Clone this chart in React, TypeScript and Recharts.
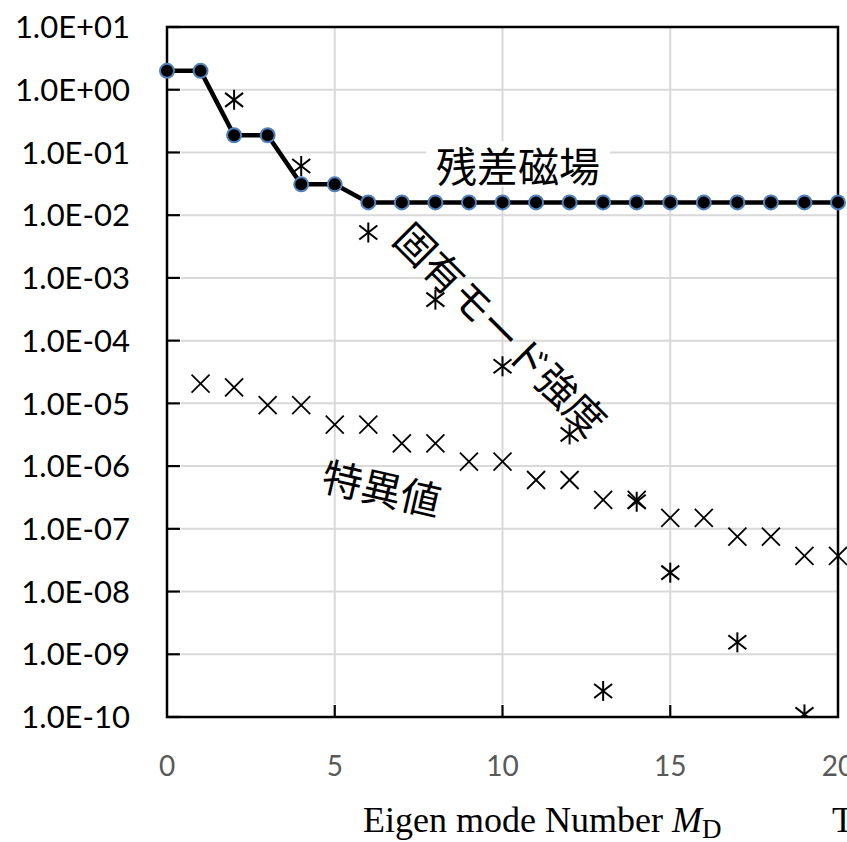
import React from "react";
import {
  ComposedChart,
  Line,
  Scatter,
  XAxis,
  YAxis,
  CartesianGrid,
  ReferenceArea,
} from "recharts";

// eigen mode numbers
const modes = [0, 1, 2, 3, 4, 5, 6, 7, 8, 9, 10, 11, 12, 13, 14, 15, 16, 17, 18, 19, 20];

// 残差磁場 (residual field)
const residualField = [
  2.0, 2.0, 0.188, 0.188, 0.031, 0.031, 0.016, 0.016, 0.016, 0.016, 0.016,
  0.016, 0.016, 0.016, 0.016, 0.016, 0.016, 0.016, 0.016, 0.016, 0.016,
];

// 固有モード強度 (eigen mode intensity)
const modeX = [2, 4, 6, 8, 10, 12, 13, 14, 15, 17, 19];
const modeIntensity = [0.69, 0.061, 0.0053, 4.5e-4, 3.9e-5, 3.2e-6, 2.6e-10, 2.7e-7, 2.0e-8, 1.55e-9, 1.1e-10];

// 特異値 (singular values)
const singularX = [1, 2, 3, 4, 5, 6, 7, 8, 9, 10, 11, 12, 13, 14, 15, 16, 17, 18, 19, 20];
const singularValue = [
  2.07e-5, 1.8e-5, 9.4e-6, 9.4e-6, 4.6e-6, 4.6e-6, 2.3e-6, 2.3e-6, 1.18e-6, 1.18e-6,
  6.0e-7, 6.0e-7, 2.9e-7, 2.9e-7, 1.5e-7, 1.5e-7, 7.5e-8, 7.5e-8, 3.7e-8, 3.7e-8,
];

const xTicks = [0, 5, 10, 15, 20];
const yTicks = [10, 1, 0.1, 0.01, 1e-3, 1e-4, 1e-5, 1e-6, 1e-7, 1e-8, 1e-9, 1e-10];
const yTickLabels = [
  "1.0E+01", "1.0E+00", "1.0E-01", "1.0E-02", "1.0E-03", "1.0E-04",
  "1.0E-05", "1.0E-06", "1.0E-07", "1.0E-08", "1.0E-09", "1.0E-10",
];

const residualData = modes.map((x, i) => ({ x, residual: residualField[i] }));
const modeData = modeX.map((x, i) => ({ x, y: modeIntensity[i] }));
const singularData = singularX.map((x, i) => ({ x, y: singularValue[i] }));

const labelFont = "Lato, 'Open Sans', sans-serif";
const cjkFont = "'Noto Sans CJK JP', sans-serif";
const gridColor = "#d9d9d9";

const Asterisk = (props: any) => {
  const { cx, cy } = props;
  if (cx == null || cy == null) return null;
  return (
    <g stroke="#000" strokeWidth={2}>
      <line x1={cx} y1={cy - 10} x2={cx} y2={cy + 10} />
      <line x1={cx - 9} y1={cy - 7} x2={cx + 9} y2={cy + 7} />
      <line x1={cx - 9} y1={cy + 7} x2={cx + 9} y2={cy - 7} />
    </g>
  );
};

const Cross = (props: any) => {
  const { cx, cy } = props;
  if (cx == null || cy == null) return null;
  return (
    <g stroke="#000" strokeWidth={1.8}>
      <line x1={cx - 9} y1={cy - 9} x2={cx + 9} y2={cy + 9} />
      <line x1={cx - 9} y1={cy + 9} x2={cx + 9} y2={cy - 9} />
    </g>
  );
};

// grid lines leave room for the inward tick marks
const HGrid = (props: any) => {
  const { x1, y1, x2, y2 } = props;
  return <line x1={x1 + 14} y1={y1} x2={x2} y2={y2} stroke={gridColor} strokeWidth={2} />;
};

const VGrid = (props: any) => {
  const { x1, y1, x2, y2 } = props;
  const bottom = Math.max(y1, y2);
  const top = Math.min(y1, y2);
  return <line x1={x1} y1={top} x2={x2} y2={bottom - 13} stroke={gridColor} strokeWidth={2} />;
};

const YTick = (props: any) => {
  const { x, y, payload } = props;
  const idx = yTicks.indexOf(payload.value);
  return (
    <g>
      <line x1={x} y1={y} x2={x + 13} y2={y} stroke="#000" strokeWidth={2.2} />
      <text
        x={x - 37}
        y={y}
        dy="0.36em"
        textAnchor="end"
        fontFamily={labelFont}
        fontSize={31}
        fill="#000"
      >
        {idx >= 0 ? yTickLabels[idx] : ""}
      </text>
    </g>
  );
};

const XTick = (props: any) => {
  const { x, y, payload } = props;
  const inner = payload.value > 0 && payload.value < 20;
  return (
    <g>
      {inner && <line x1={x} y1={y} x2={x} y2={y - 12} stroke="#000" strokeWidth={2.2} />}
      <text
        x={x}
        y={y + 59}
        textAnchor="middle"
        fontFamily={labelFont}
        fontSize={28}
        fill="#595959"
      >
        {payload.value}
      </text>
    </g>
  );
};

const AxisTitle = (props: any) => {
  const vb = props.viewBox || { x: 167 };
  const x0 = vb.x + 196;
  return (
    <text x={x0} y={832} fontFamily="'Liberation Serif', 'Times New Roman', serif" fontSize={36} fill="#000">
      Eigen mode Number{" "}
      <tspan fontStyle="italic">M</tspan>
      <tspan fontSize={27} dy={6}>D</tspan>
      <tspan x={832} dy={-6}>T</tspan>
    </text>
  );
};

const note = (
  text: string,
  cx: number,
  cy: number,
  size: number,
  angle: number,
  bg?: string
) => (
  <div
    style={{
      position: "absolute",
      left: cx,
      top: cy,
      transform: `translate(-50%, -50%) rotate(${angle}deg)`,
      fontFamily: cjkFont,
      fontSize: size,
      lineHeight: 1,
      whiteSpace: "nowrap",
      color: "#000",
      background: bg,
      padding: bg ? "2px 10px" : 0,
    }}
  >
    {text}
  </div>
);

export default function App() {
  return (
    <div style={{ position: "absolute", left: 0, top: 0, width: 847, height: 842, background: "#fff" }}>
      <ComposedChart
        width={847}
        height={842}
        data={residualData}
        margin={{ top: 27, right: 9, bottom: 0, left: 0 }}
      >
        <CartesianGrid horizontal={<HGrid />} vertical={<VGrid />} />
        <XAxis
          dataKey="x"
          type="number"
          domain={[0, 20]}
          ticks={xTicks}
          height={125}
          axisLine={false}
          tickLine={false}
          tickSize={0}
          tickMargin={0}
          tick={<XTick />}
          interval={0}
          label={{ content: <AxisTitle /> }}
        />
        <YAxis
          type="number"
          scale="log"
          domain={[1e-10, 10]}
          allowDataOverflow
          ticks={yTicks}
          width={167}
          axisLine={false}
          tickLine={false}
          tickSize={0}
          tickMargin={0}
          tick={<YTick />}
          interval={0}
        />
        <ReferenceArea
          x1={0}
          x2={20}
          y1={1e-10}
          y2={10}
          fill="none"
          fillOpacity={0}
          stroke="#000"
          strokeWidth={2.5}
          ifOverflow="visible"
        />
        <Scatter data={singularData} dataKey="y" shape={<Cross />} isAnimationActive={false} />
        <Scatter data={modeData} dataKey="y" shape={<Asterisk />} isAnimationActive={false} />
        <Line
          dataKey="residual"
          stroke="#000"
          strokeWidth={4.5}
          dot={{ r: 7, fill: "#000", stroke: "#4f81bd", strokeWidth: 2 }}
          activeDot={false}
          isAnimationActive={false}
        />
      </ComposedChart>
      {note("残差磁場", 518, 164, 41, 0, "#fff")}
      {note("固有モード強度", 502, 328, 40, 45)}
      {note("特異値", 382, 487, 40, 13)}
    </div>
  );
}
